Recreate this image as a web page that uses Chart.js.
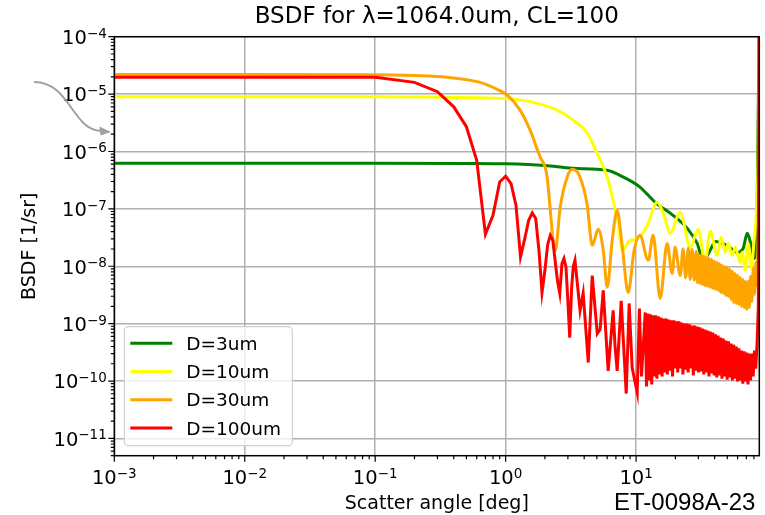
<!DOCTYPE html>
<html>
<head>
<meta charset="utf-8">
<title>BSDF</title>
<script src="https://cdn.jsdelivr.net/npm/chart.js@4.4.1/dist/chart.umd.min.js"></script>
<style>
html,body{margin:0;padding:0;background:#ffffff;overflow:hidden;}
canvas{display:block;}
</style>
</head>
<body>
<canvas id="chart" width="765" height="515"></canvas>
<script>
// ---------------- data ----------------
const chartTitle = 'BSDF for λ=1064.0um, CL=100';
const xAxisTitle = 'Scatter angle [deg]';
const yAxisTitle = 'BSDF [1/sr]';
const footnote = 'ET-0098A-23';

const seriesLabels = ['D=3um', 'D=10um', 'D=30um', 'D=100um'];
const seriesColors = ['#008000', '#ffff00', '#ffa500', '#ff0000'];

const tickBase = '10';
const xTickValues = [1e-3, 1e-2, 1e-1, 1, 10];
const xTickExponents = ['−3', '−2', '−1', '0', '1'];
const yTickValues = [1e-11, 1e-10, 1e-9, 1e-8, 1e-7, 1e-6, 1e-5, 1e-4];
const yTickExponents = ['−11', '−10', '−9', '−8', '−7', '−6', '−5', '−4'];

// D = 3 um
const d3umX = [0.001, 0.01, 0.1, 0.5, 1.0, 2.0, 3.24, 5.98, 7.94, 10.7, 14.0, 19.2, 24.6, 29.4, 32.7, 37.0, 40.4, 49.9, 59.6, 66.2, 71.1, 76.3, 80.4, 84.8, 88];
const d3umY = [6.25e-7, 6.25e-7, 6.25e-7, 6.2e-7, 6.1e-7, 5.7e-7, 5.1e-7, 4.7e-7, 3.6e-7, 2.4e-7, 1.3e-7, 7.7e-8, 4.6e-8, 2.5e-8, 1.27e-8, 1.9e-8, 2.7e-8, 2.3e-8, 1.75e-8, 2.05e-8, 3.75e-8, 2.3e-8, 1.37e-8, 1.4e-7, 3e-4];

// D = 10 um
const d10umX = [0.001, 0.01, 0.1, 0.637, 1.14, 1.75, 2.48, 3.30, 4.22, 5.03, 6.0, 6.67, 7.29, 7.82, 9.0, 10.4, 12.2, 14.5, 16.4, 18.2, 21.8, 26.0, 29.9, 33.9, 37.0, 41.9, 44.9, 48.2, 50.8, 54.5, 57.5, 62.8, 65.1, 68.7, 72.4, 76.3, 80.5, 83.4, 86.3, 88];
const d10umY = [9.0e-6, 9.0e-6, 9.0e-6, 8.6e-6, 8.2e-6, 6.9e-6, 5.26e-6, 3.52e-6, 2.08e-6, 9.3e-7, 3.56e-7, 1.41e-7, 5.6e-8, 1.89e-8, 2.83e-8, 3.07e-8, 5.2e-8, 1.3e-7, 7.7e-8, 3.75e-8, 8.7e-8, 2.14e-8, 4.4e-8, 1.22e-8, 4.06e-8, 1.55e-8, 3.2e-8, 1.75e-8, 2.5e-8, 1.55e-8, 2.14e-8, 1.17e-8, 1.75e-8, 8.5e-9, 2.5e-8, 9.2e-9, 3.07e-8, 7.7e-8, 1.05e-6, 3e-4];

// D = 30 um
const d30umX = [0.001, 0.01, 0.1, 0.2, 0.356, 0.637, 0.861, 1.03, 1.29, 1.54, 1.84, 2.01, 2.08, 2.19, 2.31, 2.40, 2.62, 2.96, 3.24, 3.66, 4.22, 4.61, 5.13, 5.60, 6.01, 6.56, 7.16, 7.82, 8.69, 9.66, 10.7, 12.4, 13.5, 15.3, 17.3, 18.9, 19.9, 21.8, 22.9, 24.0, 25.1, 26.0, 26.9, 27.9, 28.9,
  29.43, 30.11, 30.81, 31.53, 32.26, 33.01, 33.78, 34.56, 35.37, 36.18, 37.03, 37.89, 38.76, 39.67, 40.59, 41.53, 42.49, 43.48, 44.49, 45.52, 46.58, 47.66, 48.77, 49.90, 51.06, 52.25, 53.46, 54.70, 55.98, 57.27, 58.61, 59.97, 61.36, 62.79, 64.25, 65.74, 67.26, 68.83, 70.43, 72.06, 73.74, 75.45, 77.20, 79.00, 80.83, 82.71, 84.61, 86.5, 88];
const d30umY = [2.2e-5, 2.2e-5, 2.18e-5, 2.1e-5, 1.96e-5, 1.6e-5, 1.21e-5, 9.6e-6, 5.26e-6, 2.35e-6, 8.0e-7, 5.3e-7, 3.6e-7, 1.07e-7, 2.83e-8, 1.89e-8, 1.07e-7, 3.56e-7, 4.9e-7, 3.86e-7, 1.16e-7, 2.32e-8, 4.4e-8, 1.89e-8, 4.3e-9, 2.83e-8, 9.4e-8, 2.32e-8, 3.5e-9, 1.89e-8, 3.46e-8, 1.27e-8, 3.46e-8, 2.75e-9, 2.5e-8, 7.5e-9, 2.14e-8, 6.9e-9, 2.0e-8, 6.3e-9, 2.05e-8, 5.9e-9, 1.97e-8, 5.7e-9, 1.82e-8,
  5.2e-9, 1.61e-8, 5.0e-9, 1.55e-8, 4.8e-9, 1.49e-8, 4.6e-9, 1.43e-8, 4.45e-9, 1.37e-8, 4.3e-9, 1.32e-8, 4.1e-9, 1.22e-8, 3.95e-9, 1.17e-8, 3.8e-9, 1.12e-8, 3.5e-9, 1.04e-8, 3.37e-9, 9.95e-9, 3.1e-9, 9.6e-9, 2.98e-9, 8.85e-9, 2.65e-9, 8.15e-9, 2.34e-9, 7.5e-9, 2.25e-9, 6.95e-9, 2.16e-9, 6.4e-9, 2.0e-9, 5.9e-9, 1.92e-9, 5.45e-9, 1.77e-9, 5.45e-9, 1.92e-9, 6.7e-9, 2.44e-9, 9.2e-9, 3.24e-9, 1.17e-8, 4.6e-9, 1.4e-7, 3e-4];

// D = 100 um
const d100umX = [0.001, 0.01, 0.1, 0.2, 0.3, 0.4, 0.5, 0.6, 0.7, 0.8, 0.9, 1.0, 1.1, 1.2, 1.3, 1.4, 1.5, 1.6, 1.7, 1.8, 1.9, 2.0, 2.1, 2.2, 2.3, 2.4, 2.5, 2.6, 2.7, 2.8, 2.9, 3.0, 3.1, 3.2, 3.3, 3.4, 3.72, 3.93, 4.30, 4.61, 5.04, 5.3, 5.6, 6.11, 6.67, 6.9, 7.16, 7.69, 8.40, 8.85, 9.33, 10.2, 10.6, 11.0,
  11.75, 12.02, 12.30, 12.59, 12.88, 13.18, 13.49, 13.80, 14.12, 14.44, 14.78, 15.12, 15.47, 15.83, 16.20, 16.58, 16.96, 17.36, 17.76, 18.17, 18.59, 19.03, 19.47, 19.92, 20.38, 20.86, 21.34, 21.84, 22.35, 22.86, 23.39, 23.94, 24.49, 25.06, 25.64, 26.24, 26.85, 27.47, 28.11, 28.76, 29.43, 30.11, 30.81, 31.53, 32.26, 33.01, 33.78, 34.56, 35.37, 36.18, 37.03, 37.89, 38.76, 39.67, 40.59, 41.53, 42.49, 43.48, 44.49, 45.52, 46.58, 47.66, 48.77, 49.90, 51.06, 52.25, 53.46, 54.70, 55.98, 57.27, 58.61, 59.97, 61.36, 62.79, 64.25, 65.74, 67.26, 68.83, 70.43, 72.06, 73.74, 75.45, 77.20, 79.00, 80.83, 82.71, 84.61, 86.5, 88];
const d100umY = [1.96e-5, 1.96e-5, 1.96e-5, 1.6e-5, 1.1e-5, 6.0e-6, 2.7e-6, 7.0e-7, 3.6e-8, 7.7e-8, 2.95e-7, 3.7e-7, 2.76e-7, 1.16e-7, 1.45e-8, 3.0e-8, 6.3e-8, 8.5e-8, 6.8e-8, 1.9e-8, 3.5e-9, 8.5e-9, 2.4e-8, 3.46e-8, 2.83e-8, 1.2e-8, 5.5e-9, 3.36e-9, 1.1e-8, 1.36e-8, 9.7e-9, 2.5e-9, 5.7e-10, 4.0e-9, 1.0e-8, 1.27e-8, 1.7e-9, 3.4e-9, 2.1e-10, 6.9e-9, 6.7e-10, 8.0e-10, 3.8e-9, 1.5e-10, 1.7e-9, 4.0e-10, 1.5e-10, 2.5e-9, 6.05e-11, 2.25e-9, 1.7e-10, 6.3e-11, 1.84e-9, 1.2e-10,
  1.57e-9, 8.0e-11, 1.5e-9, 1.02e-10, 1.45e-9, 8.7e-11, 1.4e-9, 1.2e-10, 1.4e-9, 1.1e-10, 1.34e-9, 1.3e-10, 1.28e-9, 1.2e-10, 1.23e-9, 1.41e-10, 1.23e-9, 1.3e-10, 1.18e-9, 1.52e-10, 1.14e-9, 1.2e-10, 1.14e-9, 1.65e-10, 1.1e-9, 1.41e-10, 1.1e-9, 1.65e-10, 1.05e-9, 1.3e-10, 1.0e-9, 1.58e-10, 1.0e-9, 1.41e-10, 9.7e-10, 1.65e-10, 9.3e-10, 1.25e-10, 9.3e-10, 1.52e-10, 8.9e-10, 1.41e-10, 8.6e-10, 1.47e-10, 8.2e-10, 1.3e-10, 7.9e-10, 1.41e-10, 7.6e-10, 1.2e-10, 7.3e-10, 1.35e-10, 7.0e-10, 1.25e-10, 6.5e-10, 1.15e-10, 6.2e-10, 1.25e-10, 5.7e-10, 1.1e-10, 5.5e-10, 1.2e-10, 5.1e-10, 1.06e-10, 4.9e-10, 1.15e-10, 4.5e-10, 1.02e-10, 4.3e-10, 1.1e-10, 4.0e-10, 9.8e-11, 3.7e-10, 1.02e-10, 3.4e-10, 9.0e-11, 3.3e-10, 9.8e-11, 3.14e-10, 8.7e-11, 3.0e-10, 1.02e-10, 3.0e-10, 1.2e-10, 3.4e-10, 1.65e-10, 4.5e-10, 2.0e-9, 1e-3];

// ---------------- chart ----------------
Chart.defaults.font.family = '"DejaVu Sans", sans-serif';
Chart.defaults.color = '#000000';

const seriesX = [d3umX, d10umX, d30umX, d100umX];
const seriesY = [d3umY, d10umY, d30umY, d100umY];
const toPoints = (xs, ys) => xs.map((x, i) => ({ x: x, y: ys[i] }));

const datasets = seriesLabels.map((label, i) => ({
  label: label,
  data: toPoints(seriesX[i], seriesY[i]),
  borderColor: seriesColors[i],
  backgroundColor: seriesColors[i],
  borderWidth: 3,
  pointRadius: 0,
  fill: false,
  tension: 0,
  cubicInterpolationMode: i < 3 ? 'monotone' : 'default',
  order: seriesLabels.length - i,
  clip: 0
}));

const MAIN_FONT = '19.5px "DejaVu Sans"';
const EXP_FONT = '13.5px "DejaVu Sans"';
function drawPower(ctx, exp, x, baseline, align) {
  ctx.font = MAIN_FONT;
  const wb = ctx.measureText(tickBase).width;
  ctx.font = EXP_FONT;
  const we = ctx.measureText(exp).width;
  const total = wb + we;
  const x0 = align === 'right' ? x - total : x - total / 2;
  ctx.textAlign = 'left';
  ctx.textBaseline = 'alphabetic';
  ctx.font = MAIN_FONT;
  ctx.fillText(tickBase, x0, baseline);
  ctx.font = EXP_FONT;
  ctx.fillText(exp, x0 + wb, baseline - 6.3);
}

const decor = {
  id: 'decor',
  afterDatasetsDraw(chart) {
    const { ctx, chartArea: a, scales } = chart;
    const xs = scales.x, ys = scales.y;
    ctx.save();
    // minor / major tick marks (log style)
    ctx.strokeStyle = '#000000';
    ctx.lineWidth = 1.2;
    ctx.beginPath();
    for (let e = -3; e <= 1; e++) {
      for (let m = 1; m <= 9; m++) {
        const v = m * Math.pow(10, e);
        if (v < xs.min * 0.9999 || v > xs.max) continue;
        const px = xs.getPixelForValue(v);
        const len = m === 1 ? 6 : 3.5;
        ctx.moveTo(px, a.bottom);
        ctx.lineTo(px, a.bottom + len);
      }
    }
    for (let e = -12; e <= -4; e++) {
      for (let m = 1; m <= 9; m++) {
        const v = m * Math.pow(10, e);
        if (v < ys.min || v > ys.max * 1.0001) continue;
        const py = ys.getPixelForValue(v);
        const len = m === 1 ? 6 : 3.5;
        ctx.moveTo(a.left, py);
        ctx.lineTo(a.left - len, py);
      }
    }
    ctx.stroke();
    // spines
    ctx.lineWidth = 1.5;
    ctx.strokeRect(a.left, a.top, a.right - a.left, a.bottom - a.top);
    // tick labels (10 with superscript exponent)
    ctx.fillStyle = '#000000';
    xTickValues.forEach((v, i) => {
      drawPower(ctx, xTickExponents[i], xs.getPixelForValue(v), a.bottom + 28.6, 'center');
    });
    yTickValues.forEach((v, i) => {
      drawPower(ctx, yTickExponents[i], a.left - 7.5, ys.getPixelForValue(v) + 7.3, 'right');
    });
    ctx.restore();
  },
  afterDraw(chart) {
    const { ctx, chartArea: a } = chart;
    ctx.save();
    // legend (lower left, inside axes)
    const bw = 168, bh = 119;
    const bx = a.left + 10, by = a.bottom - 10 - bh;
    ctx.beginPath();
    if (ctx.roundRect) ctx.roundRect(bx, by, bw, bh, 4); else ctx.rect(bx, by, bw, bh);
    ctx.fillStyle = 'rgba(255,255,255,0.8)';
    ctx.fill();
    ctx.strokeStyle = '#d0d0d0';
    ctx.lineWidth = 1.2;
    ctx.stroke();
    ctx.font = '18.5px "DejaVu Sans"';
    ctx.textAlign = 'left';
    ctx.textBaseline = 'alphabetic';
    chart.data.datasets.forEach((ds, i) => {
      const cy = by + 16.5 + i * 28.3;
      ctx.strokeStyle = ds.borderColor;
      ctx.lineWidth = 3;
      ctx.beginPath();
      ctx.moveTo(bx + 6, cy);
      ctx.lineTo(bx + 48, cy);
      ctx.stroke();
      ctx.fillStyle = '#000000';
      ctx.fillText(ds.label, bx + 62, cy + 6.6);
    });
    // curved grey arrow annotation at the left
    ctx.strokeStyle = '#a0a0a0';
    ctx.fillStyle = '#a0a0a0';
    ctx.lineWidth = 2;
    ctx.beginPath();
    ctx.moveTo(34, 82);
    ctx.bezierCurveTo(70, 82, 72, 130, 101, 130.8);
    ctx.stroke();
    ctx.beginPath();
    ctx.moveTo(111, 132);
    ctx.lineTo(99.3, 126.5);
    ctx.lineTo(100.5, 135.5);
    ctx.closePath();
    ctx.fill();
    // document id
    ctx.fillStyle = '#000000';
    ctx.font = '24px "Liberation Sans"';
    ctx.textAlign = 'left';
    ctx.fillText(footnote, 614, 509.5);
    ctx.restore();
  }
};

new Chart(document.getElementById('chart'), {
  type: 'line',
  data: { datasets: datasets },
  plugins: [decor],
  options: {
    responsive: false,
    animation: false,
    devicePixelRatio: 1,
    events: [],
    layout: { padding: { left: 0, right: 5.7, top: 0, bottom: 0 } },
    plugins: {
      legend: { display: false },
      tooltip: { enabled: false },
      title: {
        display: true,
        text: chartTitle,
        fullSize: false,
        color: '#000000',
        font: { size: 23, weight: 'normal' },
        padding: { top: 3.5, bottom: 5.6 }
      }
    },
    scales: {
      x: {
        type: 'logarithmic',
        position: 'bottom',
        min: 1e-3,
        max: 88,
        afterBuildTicks: (s) => { s.ticks = xTickValues.map(v => ({ value: v })); },
        afterFit: (s) => { s.height = 59.3; },
        ticks: { display: false, autoSkip: false },
        grid: { color: '#b0b0b0', lineWidth: 1.5, drawTicks: false },
        border: { display: false },
        title: { display: true, text: xAxisTitle, color: '#000000', font: { size: 19 }, padding: { top: 0, bottom: 0 } }
      },
      y: {
        type: 'logarithmic',
        position: 'left',
        min: 5e-12,
        max: 1e-4,
        afterBuildTicks: (s) => { s.ticks = yTickValues.map(v => ({ value: v })); },
        afterFit: (s) => { s.width = 114.3; },
        ticks: { display: false, autoSkip: false },
        grid: { color: '#b0b0b0', lineWidth: 1.5, drawTicks: false },
        border: { display: false },
        title: { display: true, text: yAxisTitle, color: '#000000', font: { size: 19 }, padding: { top: 19, bottom: 0 } }
      }
    }
  }
});
</script>
</body>
</html>
